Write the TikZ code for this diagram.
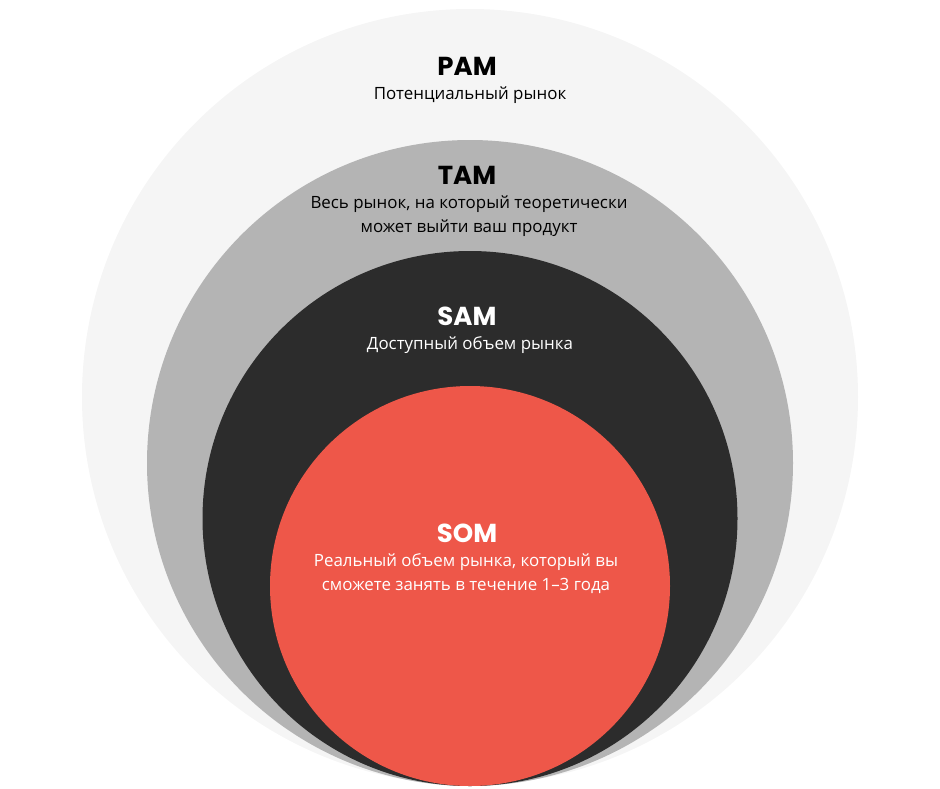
\documentclass[tikz,border=0pt]{standalone}
\usepackage{fontspec}
\setmainfont{Open Sans}
\newfontfamily\headfont{Poppins}
\definecolor{pamc}{HTML}{F5F5F5}
\definecolor{tamc}{HTML}{B4B4B4}
\definecolor{samc}{HTML}{2C2C2C}
\definecolor{somc}{HTML}{EE5749}
\begin{document}
\begin{tikzpicture}[x=1pt,y=-1pt,
  head/.style={font=\headfont\bfseries\fontsize{26}{30}\selectfont, inner sep=0pt},
  body/.style={font=\fontsize{16.9}{24}\selectfont, align=center, inner sep=0pt}]
\useasboundingbox (0,0) rectangle (940,788);
\fill[pamc] (470,397) circle[radius=388];
\fill[tamc] (470,463) circle[radius=323];
\fill[samc] (470,518.5) circle[radius=267.5];
\fill[somc] (470,586) circle[radius=200];
\node[head, text=black] (pam) at (467,66) {PAM};
\node[body, text=black] (pamt) at (470,95) {Потенциальный рынок};
\node[head, text=black] (tam) at (467,175) {TAM};
\node[body, text=black] (tamt) at (469,216) {Весь рынок, на который теоретически\\может выйти ваш продукт};
\node[head, text=white] (sam) at (467,316) {SAM};
\node[body, text=white] (samt) at (470,345) {Доступный объем рынка};
\node[head, text=white] (som) at (467,533) {SOM};
\node[body, text=white] (somt) at (466,574) {Реальный объем рынка, который вы\\сможете занять в течение 1–3 года};
\end{tikzpicture}
\end{document}
